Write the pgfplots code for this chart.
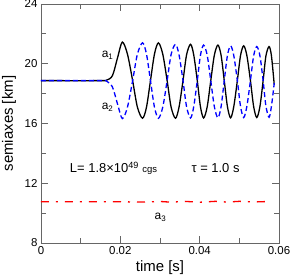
\documentclass[border=0pt]{standalone}
\usepackage{pgfplots}
\pgfplotsset{compat=1.18}
\usepackage{fontspec}
\setmainfont{Liberation Sans}
\begin{document}
\begin{tikzpicture}
\begin{axis}[
  at={(0,0)}, anchor=south west,
  scale only axis, width=238bp, height=239bp,
  xmin=0, xmax=0.06, ymin=8, ymax=24,
  xtick={0,0.02,0.04,0.06}, xticklabels={0,0.02,0.04,0.06},
  minor xtick={0.01,0.03,0.05},
  ytick={8,12,16,20,24}, minor ytick={10,14,18,22},
  scaled x ticks=false,
  tick align=inside, xtick pos=both, ytick pos=both,
  major tick length=7bp, minor tick length=5bp,
  every tick/.style={black!60, line width=0.8bp},
  axis line style={black!60, line width=0.8bp},
  ticklabel style={font=\fontsize{11.5}{12}\selectfont},
  /pgf/number format/assume math mode=true,
  xlabel={time [s]}, ylabel={semiaxes [km]},
  label style={font=\fontsize{15}{16}\selectfont},
  xlabel style={at={(axis description cs:0.5,-0.105)}, anchor=center},
  ylabel style={at={(axis description cs:-0.134,0.5)}, anchor=center},
]
\addplot[black, line width=1.3bp, smooth, tension=0.5] coordinates {
(0,18.87) (0.0150,18.87) (0.0165,18.9) (0.0180,19.2) (0.0193,20.4)
(0.0205,21.45) (0.0218,20.64) (0.0231,18.87) (0.0243,17.10) (0.0256,16.35)
(0.0266,17.10) (0.0276,18.87) (0.0286,20.64) (0.0296,21.40) (0.0307,20.64)
(0.0318,18.87) (0.0328,17.10) (0.0339,16.35) (0.0348,17.10) (0.0358,18.87)
(0.0367,20.60) (0.0377,21.30) (0.0385,20.60) (0.0394,18.87) (0.0402,17.12)
(0.0410,16.37) (0.0419,17.12) (0.0428,18.87) (0.0437,20.57) (0.0446,21.25)
(0.0454,20.57) (0.0462,18.87) (0.0470,17.13) (0.0478,16.38) (0.0486,17.13)
(0.0495,18.87) (0.0503,20.55) (0.0511,21.20) (0.0519,20.55) (0.0528,18.87)
(0.0536,17.15) (0.0544,16.40) (0.0552,17.15) (0.0560,18.87) (0.0567,20.52)
(0.0575,21.15) (0.0581,20.52) (0.0588,18.6)
};
\addplot[blue, line width=1.3bp, dash pattern=on 5bp off 3bp, smooth, tension=0.5] coordinates {
(0,18.87) (0.0150,18.87) (0.0165,18.84) (0.0180,18.45) (0.0193,17.3)
(0.0205,16.33) (0.0218,17.10) (0.0231,18.87) (0.0243,20.64) (0.0256,21.40)
(0.0266,20.64) (0.0276,18.87) (0.0286,17.10) (0.0296,16.35) (0.0307,17.10)
(0.0318,18.87) (0.0328,20.62) (0.0339,21.30) (0.0348,20.60) (0.0358,18.87)
(0.0367,17.12) (0.0377,16.37) (0.0385,17.12) (0.0394,18.87) (0.0402,20.57)
(0.0410,21.25) (0.0419,20.57) (0.0428,18.87) (0.0437,17.13) (0.0446,16.38)
(0.0454,17.13) (0.0462,18.87) (0.0470,20.55) (0.0478,21.20) (0.0486,20.55)
(0.0495,18.87) (0.0503,17.15) (0.0511,16.40) (0.0519,17.15) (0.0528,18.87)
(0.0536,20.52) (0.0544,21.15) (0.0552,20.52) (0.0560,18.87) (0.0567,17.17)
(0.0575,16.42) (0.0581,17.17) (0.0588,18.7)
};
\addplot[red, line width=1.3bp, dash pattern=on 8bp off 7bp on 2bp off 7bp] coordinates {
(0,10.76) (0.020,10.76) (0.025,10.74) (0.030,10.78) (0.033,10.73) (0.036,10.79)
(0.040,10.73) (0.044,10.79) (0.047,10.74) (0.050,10.79) (0.054,10.75) (0.0575,10.78)
};
\node[font=\fontsize{12}{13}\selectfont] at (axis cs:0.0168,20.59) {a\textsubscript{1}};
\node[font=\fontsize{12}{13}\selectfont] at (axis cs:0.0168,17.10) {a\textsubscript{2}};
\node[font=\fontsize{12}{13}\selectfont] at (axis cs:0.0301,9.74) {a\textsubscript{3}};
\node[font=\fontsize{13}{14}\selectfont] at (axis cs:0.0183,13.02) {L= 1.8×10\textsuperscript{49} {\fontsize{9.5}{10}\selectfont cgs}};
\node[font=\fontsize{13}{14}\selectfont] at (axis cs:0.0440,13.02) {τ = 1.0 s};
\end{axis}
\pgfresetboundingbox
\path (-41bp,-36bp) rectangle (250bp,243bp);
\end{tikzpicture}
\end{document}
